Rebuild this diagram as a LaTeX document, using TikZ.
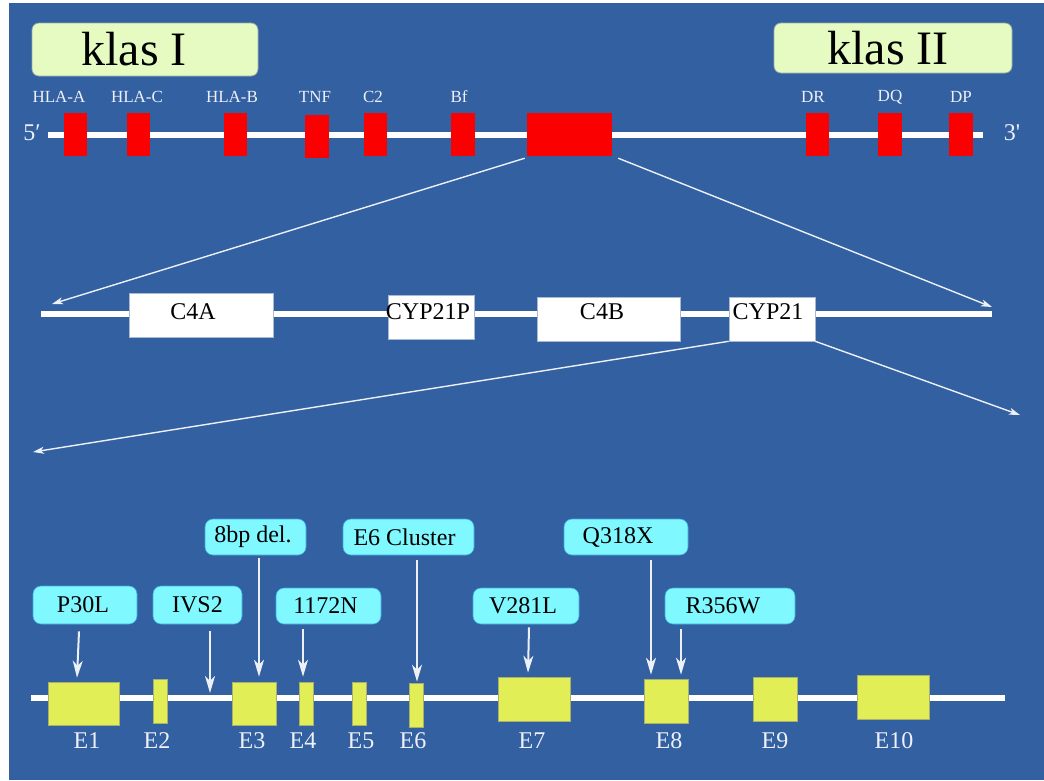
\documentclass[tikz,border=0pt]{standalone}
\usepackage{fontspec}
\setmainfont{Liberation Serif}
\usetikzlibrary{arrows.meta,calc}
\definecolor{bgblue}{RGB}{50,96,160}
\definecolor{klasfill}{RGB}{229,251,193}
\definecolor{klasedge}{RGB}{150,175,170}
\definecolor{genered}{RGB}{250,0,0}
\definecolor{exonfill}{RGB}{226,238,85}
\definecolor{exonedge}{RGB}{170,175,110}
\definecolor{callfill}{RGB}{128,248,255}
\definecolor{calledge}{RGB}{60,170,230}
\definecolor{lbl}{RGB}{238,240,248}
\definecolor{boxedge}{RGB}{170,185,210}
\begin{document}
\begin{tikzpicture}[x=1pt,y=-1pt,
  klasbox/.style={draw=klasedge, line width=0.8pt, fill=klasfill, rounded corners=7pt, inner sep=0pt, font=\fontsize{48}{56}\selectfont},
  redbox/.style={fill=genered, inner sep=0pt, minimum width=23pt, minimum height=43pt},
  toplbl/.style={text=lbl, inner sep=0pt, font=\fontsize{17}{20}\selectfont},
  endlbl/.style={text=lbl, inner sep=0pt, font=\fontsize{24}{28}\selectfont},
  whitebox/.style={fill=white, draw=boxedge, line width=0.6pt, inner sep=0pt, minimum height=44pt},
  boxtxt/.style={inner sep=0pt, font=\fontsize{24}{28}\selectfont},
  exonbox/.style={fill=exonfill, draw=exonedge, line width=0.6pt, inner sep=0pt, minimum height=43pt},
  exonlbl/.style={text=lbl, inner sep=0pt, font=\fontsize{24}{28}\selectfont},
  callout/.style={fill=callfill, draw=calledge, line width=0.6pt, rounded corners=8pt, inner sep=0pt, minimum height=36pt, font=\fontsize{24}{28}\selectfont},
  backbone/.style={white, line width=6pt},
  zoomline/.style={draw=lbl, line width=1.4pt, -{Stealth[length=11pt,width=7pt,inset=3pt]}},
  mutarrow/.style={draw=lbl, line width=2pt, -{Stealth[length=17pt,width=10pt,inset=5pt]}}
]
% background
\fill[white] (0,0) rectangle (1044,780);
\fill[bgblue] (9,3) rectangle (1044,780);

% ---------- top: MHC region ----------
\node[klasbox, minimum width=226pt, minimum height=53pt] (klas1) at (145,49.5) {klas I\hspace*{22pt}};
\node[klasbox, minimum width=238pt, minimum height=50pt] (klas2) at (893,48) {klas II\hspace*{10pt}};

\coordinate (chrL) at (48,135);
\coordinate (chrR) at (983,135);
\draw[backbone] (chrL) -- (chrR);
\node[endlbl] (five) at (32,133) {5′};
\node[endlbl] (three) at (1012,133) {3\textquotesingle};

\node[redbox] (hlaa) at (75.5,134.5) {};
\node[redbox] (hlac) at (138.5,134.5) {};
\node[redbox] (hlab) at (235.5,134.5) {};
\node[redbox, minimum width=24pt] (tnf) at (317,136.5) {};
\node[redbox] (c2) at (375.5,134.5) {};
\node[redbox, minimum width=24pt] (bf) at (463,134.5) {};
\node[redbox, minimum width=85pt] (big) at (569.5,134.5) {};
\node[redbox] (dr) at (817.5,134.5) {};
\node[redbox, minimum width=24pt] (dq) at (890,134.5) {};
\node[redbox, minimum width=24pt] (dp) at (961,134.5) {};

\node[toplbl] (lhlaa) at (59,97) {HLA-A};
\node[toplbl] (lhlac) at (137,97) {HLA-C};
\node[toplbl] (lhlab) at (232,97) {HLA-B};
\node[toplbl] (ltnf) at (315,97) {TNF};
\node[toplbl] (lc2) at (373,97) {C2};
\node[toplbl] (lbf) at (459,97) {Bf};
\node[toplbl] (ldr) at (813,97) {DR};
\node[toplbl] (ldq) at (890,97) {DQ};
\node[toplbl] (ldp) at (961,97) {DP};

% ---------- middle: C4/CYP21 region ----------
\coordinate (tipL) at (52,304);
\coordinate (tipR) at (992,307);
\draw[zoomline] ($(big.south west)+(-2,2)$) -- (tipL);
\draw[zoomline] ($(big.south east)+(6,2)$) -- (tipR);

\coordinate (midL) at (41,314);
\coordinate (midR) at (992,314);
\draw[backbone] (midL) -- (midR);

\node[whitebox, minimum width=144pt] (c4a) at (201,315) {};
\node[whitebox, minimum width=86pt] (cyp21p) at (431,317) {};
\node[whitebox, minimum width=143pt] (c4b) at (608.5,319) {};
\node[whitebox, minimum width=86pt] (cyp21) at (772,319) {};
\node[boxtxt] (tc4a) at (193,312) {C4A};
\node[boxtxt] (tcyp21p) at (428,312) {CYP21P};
\node[boxtxt] (tc4b) at (602,312) {C4B};
\node[boxtxt] (tcyp21) at (768,312) {CYP21};

% ---------- bottom: CYP21 gene ----------
\coordinate (tip2L) at (33,452);
\coordinate (tip2R) at (1020,415);
\draw[zoomline] (cyp21.south west) -- (tip2L);
\draw[zoomline] (cyp21.south east) -- (tip2R);

\coordinate (genL) at (31,698);
\coordinate (genR) at (1005,698);
\draw[backbone] (genL) -- (genR);

\node[exonbox, minimum width=71pt] (e1) at (83.5,703.5) {};
\node[exonbox, minimum width=14pt, minimum height=44pt] (e2) at (160,701) {};
\node[exonbox, minimum width=44pt] (e3) at (254,703.5) {};
\node[exonbox, minimum width=14pt] (e4) at (306,703.5) {};
\node[exonbox, minimum width=14pt] (e5) at (359,703.5) {};
\node[exonbox, minimum width=14pt, minimum height=44pt] (e6) at (416,705) {};
\node[exonbox, minimum width=72pt, minimum height=44pt] (e7) at (534,699) {};
\node[exonbox, minimum width=44pt, minimum height=44pt] (e8) at (666,701) {};
\node[exonbox, minimum width=44pt, minimum height=44pt] (e9) at (775,699) {};
\node[exonbox, minimum width=72pt, minimum height=44pt] (e10) at (893,697) {};

\node[exonlbl] (le1) at (87,741) {E1};
\node[exonlbl] (le2) at (157,741) {E2};
\node[exonlbl] (le3) at (252,741) {E3};
\node[exonlbl] (le4) at (303,741) {E4};
\node[exonlbl] (le5) at (361,741) {E5};
\node[exonlbl] (le6) at (413,741) {E6};
\node[exonlbl] (le7) at (532,741) {E7};
\node[exonlbl] (le8) at (669,741) {E8};
\node[exonlbl] (le9) at (775,741) {E9};
\node[exonlbl] (le10) at (894,741) {E10};

\node[callout, minimum width=104pt, minimum height=38pt] (p30l) at (85,605) {P30L\hspace*{4pt}};
\node[callout, minimum width=89pt, minimum height=38pt] (ivs2) at (197.5,605) {IVS2};
\node[callout, minimum width=105pt] (n1172) at (328.5,606) {1172N\hspace*{6pt}};
\node[callout, minimum width=101pt] (bp8) at (255.5,537) {8bp del.\hspace*{5pt}};
\node[callout, minimum width=131pt] (e6c) at (408.5,537) {E6 Cluster\hspace*{8pt}};
\node[callout, minimum width=106pt] (v281l) at (526,606) {V281L\hspace*{6pt}};
\node[callout, minimum width=124pt] (q318x) at (626,537) {Q318X\hspace*{16pt}};
\node[callout, minimum width=130pt] (r356w) at (730,606) {R356W\hspace*{14pt}};

\coordinate (ivs2pt) at (210,693);
\draw[mutarrow] ($(p30l.south)+(-6,7)$) -- ($(e1.north)+(-6.5,-4)$);
\draw[mutarrow] ($(ivs2.south)+(12.5,7)$) -- (ivs2pt);
\draw[mutarrow] ($(bp8.south)+(3.5,3)$) -- ($(e3.north)+(5,-5)$);
\draw[mutarrow] ($(n1172.south)+(-25.5,5)$) -- ($(e4.north)+(-3,-5)$);
\draw[mutarrow] ($(e6c.south)+(8.5,5)$) -- ($(e6.north)+(1,-1)$);
\draw[mutarrow] ($(v281l.south)+(3,3)$) -- ($(e7.north)+(-6,-4)$);
\draw[mutarrow] ($(q318x.south)+(25,5)$) -- ($(e8.north)+(-15,-4)$);
\draw[mutarrow] ($(r356w.south)+(-49,5)$) -- ($(e8.north)+(15,-4)$);
\end{tikzpicture}
\end{document}
